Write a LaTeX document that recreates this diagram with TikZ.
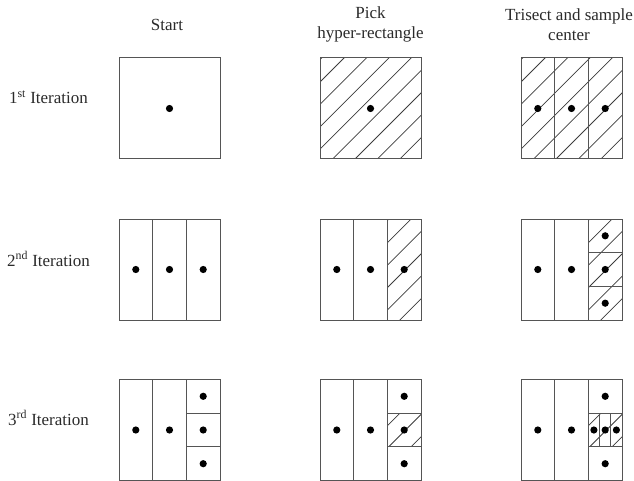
\documentclass[tikz,border=0pt]{standalone}
\usepackage{fontspec}
\setmainfont{Liberation Serif}
\definecolor{boxgray}{HTML}{555555}
\definecolor{hatchgray}{HTML}{3C3C3C}
\definecolor{textgray}{HTML}{2A2A2A}
\newcommand\hatchcell[6]{%
  \begin{scope}
    \clip (#3,#4) rectangle (#5,#6);
    \foreach \k in {-2,...,10}{%
      \pgfmathsetmacro\cc{24+22.4*\k}
      \draw[hatchline] ({#1+\cc+10},{#2-10}) -- ({#1+\cc-130},{#2+130});
    }
  \end{scope}}
\newcommand\thirds[2]{%
  \draw[box] (#1,#2) rectangle ({#1+101},{#2+101});
  \draw[box] ({#1+33.67},#2) -- ({#1+33.67},{#2+101});
  \draw[box] ({#1+67.33},#2) -- ({#1+67.33},{#2+101});}
\newcommand\rightsplit[2]{%
  \draw[box] ({#1+67.33},{#2+33.67}) -- ({#1+101},{#2+33.67});
  \draw[box] ({#1+67.33},{#2+67.33}) -- ({#1+101},{#2+67.33});}
\begin{document}
\begin{tikzpicture}[x=1pt,y=-1pt,
  box/.style={draw=boxgray, line width=1pt},
  hatchline/.style={draw=hatchgray, line width=0.75pt},
  dot/.style={circle, fill=black, inner sep=0pt, minimum size=7.2pt},
  lbl/.style={font=\fontsize{17}{20}\selectfont, text=textgray, align=center}]
\useasboundingbox (0,0) rectangle (634,481);

% titles
\node[lbl] (tstart) at (167,25) {Start};
\node[lbl] (tpick) at (370.5,24.5) {Pick\\hyper-rectangle};
\node[lbl] (ttri) at (569,24.5) {Trisect and sample\\center};
\node[lbl] (rone) at (48.5,97) {1\textsuperscript{st} Iteration};
\node[lbl] (rtwo) at (48.5,259) {2\textsuperscript{nd} Iteration};
\node[lbl] (rthree) at (48.5,418) {3\textsuperscript{rd} Iteration};

% ---------- row 1 ----------
\draw[box] (119,58) rectangle (220,159);
\node[dot] (d11) at (169.5,108.5) {};

\hatchcell{320}{58}{320}{58}{421}{159}
\draw[box] (320,58) rectangle (421,159);
\node[dot] (d12) at (370.5,108.5) {};

\hatchcell{521}{58}{521}{58}{622}{159}
\thirds{521}{58}
\node[dot] (d13a) at (537.8,108.5) {};
\node[dot] (d13b) at (571.5,108.5) {};
\node[dot] (d13c) at (605.2,108.5) {};

% ---------- row 2 ----------
\thirds{119}{219}
\node[dot] (d21a) at (135.8,269.5) {};
\node[dot] (d21b) at (169.5,269.5) {};
\node[dot] (d21c) at (203.2,269.5) {};

\hatchcell{320}{219}{387.33}{219}{421}{320}
\thirds{320}{219}
\node[dot] (d22a) at (336.8,269.5) {};
\node[dot] (d22b) at (370.5,269.5) {};
\node[dot] (d22c) at (404.2,269.5) {};

\hatchcell{521}{219}{588.33}{219}{622}{320}
\thirds{521}{219}
\rightsplit{521}{219}
\node[dot] (d23a) at (537.8,269.5) {};
\node[dot] (d23b) at (571.5,269.5) {};
\node[dot] (d23c) at (605.2,235.8) {};
\node[dot] (d23d) at (605.2,269.5) {};
\node[dot] (d23e) at (605.2,303.2) {};

% ---------- row 3 ----------
\thirds{119}{379.5}
\rightsplit{119}{379.5}
\node[dot] (d31a) at (135.8,430) {};
\node[dot] (d31b) at (169.5,430) {};
\node[dot] (d31c) at (203.2,396.3) {};
\node[dot] (d31d) at (203.2,430) {};
\node[dot] (d31e) at (203.2,463.7) {};

\hatchcell{320}{379.5}{387.33}{413.17}{421}{446.83}
\thirds{320}{379.5}
\rightsplit{320}{379.5}
\node[dot] (d32a) at (336.8,430) {};
\node[dot] (d32b) at (370.5,430) {};
\node[dot] (d32c) at (404.2,396.3) {};
\node[dot] (d32d) at (404.2,430) {};
\node[dot] (d32e) at (404.2,463.7) {};

\hatchcell{521}{379.5}{588.33}{413.17}{622}{446.83}
\thirds{521}{379.5}
\rightsplit{521}{379.5}
\draw[box] (599.55,413.17) -- (599.55,446.83);
\draw[box] (610.78,413.17) -- (610.78,446.83);
\node[dot] (d33a) at (537.8,430) {};
\node[dot] (d33b) at (571.5,430) {};
\node[dot] (d33c) at (605.2,396.3) {};
\node[dot] (d33d) at (593.9,430) {};
\node[dot] (d33e) at (605.2,430) {};
\node[dot] (d33f) at (616.4,430) {};
\node[dot] (d33g) at (605.2,463.7) {};
\end{tikzpicture}
\end{document}
